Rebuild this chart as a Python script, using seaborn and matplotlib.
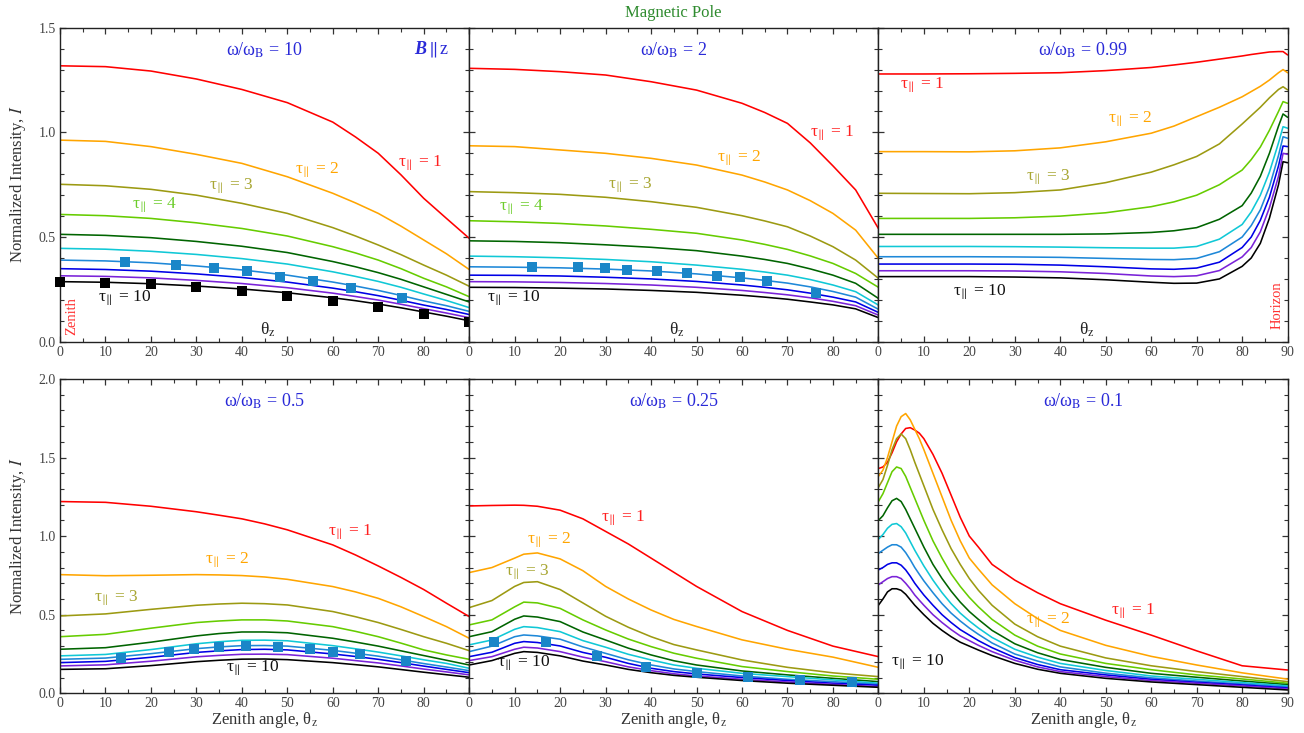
import seaborn as sns
from matplotlib import pyplot as plt
from matplotlib.ticker import MultipleLocator

# ---- data (normalized intensity vs zenith angle) ----
# curves are ordered tau = 1 .. 10

theta_w10 = [0, 10, 20, 30, 40, 50, 60, 65, 70, 75, 80, 85, 90]
I_w10 = [
    [1.318, 1.314, 1.293, 1.255, 1.205, 1.142, 1.049, 0.978, 0.900, 0.797, 0.685, 0.589, 0.494],
    [0.963, 0.957, 0.932, 0.895, 0.852, 0.788, 0.709, 0.663, 0.613, 0.552, 0.486, 0.420, 0.345],
    [0.752, 0.745, 0.728, 0.700, 0.661, 0.613, 0.545, 0.505, 0.462, 0.416, 0.366, 0.318, 0.265],
    [0.608, 0.602, 0.589, 0.568, 0.541, 0.505, 0.454, 0.424, 0.390, 0.349, 0.303, 0.262, 0.215],
    [0.513, 0.508, 0.497, 0.479, 0.456, 0.426, 0.383, 0.358, 0.330, 0.298, 0.262, 0.226, 0.190],
    [0.446, 0.442, 0.432, 0.417, 0.397, 0.371, 0.334, 0.312, 0.288, 0.260, 0.228, 0.197, 0.163],
    [0.390, 0.386, 0.377, 0.362, 0.343, 0.318, 0.285, 0.266, 0.245, 0.221, 0.195, 0.172, 0.145],
    [0.349, 0.345, 0.337, 0.324, 0.307, 0.285, 0.256, 0.239, 0.220, 0.198, 0.175, 0.154, 0.130],
    [0.315, 0.312, 0.305, 0.293, 0.278, 0.258, 0.232, 0.216, 0.199, 0.179, 0.158, 0.137, 0.115],
    [0.287, 0.284, 0.277, 0.266, 0.252, 0.234, 0.210, 0.196, 0.180, 0.162, 0.142, 0.122, 0.100],
]
sq_black_theta_w10 = [0, 10, 20, 30, 40, 50, 60, 70, 80, 90]
sq_black_I_w10 = [0.287, 0.282, 0.276, 0.263, 0.244, 0.220, 0.196, 0.167, 0.132, 0.096]
sq_blue_theta_w10 = [14.4, 25.6, 33.9, 41.2, 48.4, 55.6, 64.0, 75.3]
sq_blue_I_w10 = [0.379, 0.366, 0.351, 0.338, 0.311, 0.292, 0.258, 0.210]

theta_w2 = [0, 10, 20, 30, 40, 50, 60, 65, 70, 75, 80, 85, 90]
I_w2 = [
    [1.306, 1.301, 1.290, 1.274, 1.242, 1.202, 1.139, 1.095, 1.043, 0.950, 0.840, 0.725, 0.541],
    [0.936, 0.932, 0.916, 0.900, 0.876, 0.844, 0.796, 0.763, 0.725, 0.674, 0.613, 0.533, 0.398],
    [0.717, 0.712, 0.704, 0.690, 0.669, 0.642, 0.602, 0.577, 0.549, 0.505, 0.454, 0.390, 0.303],
    [0.578, 0.573, 0.565, 0.553, 0.537, 0.518, 0.486, 0.465, 0.441, 0.410, 0.374, 0.326, 0.260],
    [0.482, 0.479, 0.473, 0.463, 0.451, 0.435, 0.409, 0.393, 0.374, 0.348, 0.318, 0.279, 0.207],
    [0.409, 0.406, 0.401, 0.393, 0.382, 0.366, 0.346, 0.333, 0.318, 0.297, 0.271, 0.239, 0.175],
    [0.358, 0.356, 0.353, 0.347, 0.338, 0.324, 0.305, 0.293, 0.280, 0.262, 0.240, 0.213, 0.155],
    [0.318, 0.317, 0.314, 0.308, 0.300, 0.288, 0.271, 0.260, 0.248, 0.232, 0.213, 0.190, 0.140],
    [0.287, 0.286, 0.283, 0.278, 0.271, 0.260, 0.245, 0.235, 0.224, 0.210, 0.193, 0.172, 0.127],
    [0.260, 0.259, 0.256, 0.252, 0.245, 0.236, 0.222, 0.213, 0.203, 0.190, 0.176, 0.157, 0.115],
]
sq_blue_theta_w2 = [13.8, 24.0, 29.8, 34.8, 41.3, 47.8, 54.6, 59.6, 65.4, 76.2]
sq_blue_I_w2 = [0.355, 0.355, 0.351, 0.341, 0.338, 0.327, 0.314, 0.308, 0.290, 0.231]

theta_w099 = [0, 10, 20, 30, 40, 50, 60, 65, 70, 75, 80, 82, 84, 86, 88, 89, 90]
I_w099 = [
    [1.279, 1.279, 1.280, 1.282, 1.285, 1.295, 1.310, 1.322, 1.335, 1.350, 1.365, 1.372, 1.378, 1.384, 1.386, 1.386, 1.370],
    [0.908, 0.908, 0.907, 0.912, 0.926, 0.955, 0.996, 1.030, 1.075, 1.120, 1.170, 1.195, 1.220, 1.250, 1.285, 1.300, 1.285],
    [0.709, 0.708, 0.707, 0.712, 0.725, 0.760, 0.810, 0.845, 0.885, 0.945, 1.040, 1.080, 1.120, 1.165, 1.205, 1.218, 1.203],
    [0.589, 0.589, 0.589, 0.592, 0.600, 0.616, 0.645, 0.668, 0.700, 0.750, 0.820, 0.870, 0.930, 1.010, 1.100, 1.147, 1.139],
    [0.513, 0.513, 0.513, 0.513, 0.513, 0.515, 0.522, 0.530, 0.545, 0.585, 0.650, 0.710, 0.790, 0.900, 1.030, 1.088, 1.072],
    [0.455, 0.455, 0.455, 0.454, 0.452, 0.449, 0.447, 0.447, 0.455, 0.490, 0.560, 0.620, 0.700, 0.810, 0.950, 1.027, 1.020],
    [0.406, 0.406, 0.406, 0.405, 0.403, 0.398, 0.393, 0.392, 0.398, 0.430, 0.500, 0.555, 0.630, 0.740, 0.890, 0.979, 0.972],
    [0.371, 0.371, 0.371, 0.370, 0.366, 0.358, 0.348, 0.346, 0.352, 0.380, 0.450, 0.500, 0.580, 0.690, 0.840, 0.935, 0.932],
    [0.339, 0.339, 0.339, 0.338, 0.334, 0.326, 0.314, 0.311, 0.315, 0.340, 0.405, 0.450, 0.525, 0.640, 0.790, 0.900, 0.895],
    [0.311, 0.311, 0.311, 0.309, 0.305, 0.296, 0.284, 0.279, 0.280, 0.300, 0.360, 0.400, 0.470, 0.590, 0.750, 0.860, 0.855],
]

theta_w05 = [0, 10, 20, 30, 35, 40, 45, 50, 60, 65, 70, 75, 80, 85, 90]
I_w05 = [
    [1.220, 1.215, 1.190, 1.155, 1.133, 1.110, 1.078, 1.040, 0.944, 0.880, 0.810, 0.737, 0.660, 0.573, 0.488],
    [0.755, 0.748, 0.751, 0.755, 0.753, 0.749, 0.740, 0.725, 0.679, 0.645, 0.604, 0.550, 0.488, 0.424, 0.350],
    [0.492, 0.505, 0.534, 0.560, 0.568, 0.573, 0.570, 0.562, 0.520, 0.487, 0.450, 0.406, 0.360, 0.318, 0.271],
    [0.360, 0.375, 0.414, 0.450, 0.460, 0.467, 0.467, 0.460, 0.424, 0.394, 0.360, 0.319, 0.276, 0.244, 0.216],
    [0.280, 0.290, 0.325, 0.365, 0.380, 0.390, 0.390, 0.385, 0.350, 0.326, 0.300, 0.270, 0.240, 0.210, 0.180],
    [0.238, 0.247, 0.278, 0.315, 0.328, 0.337, 0.338, 0.334, 0.303, 0.283, 0.262, 0.238, 0.213, 0.190, 0.159],
    [0.216, 0.224, 0.252, 0.284, 0.295, 0.303, 0.304, 0.300, 0.273, 0.255, 0.236, 0.213, 0.189, 0.167, 0.144],
    [0.195, 0.203, 0.229, 0.260, 0.270, 0.278, 0.280, 0.276, 0.250, 0.234, 0.216, 0.195, 0.173, 0.152, 0.131],
    [0.174, 0.181, 0.204, 0.232, 0.241, 0.248, 0.249, 0.246, 0.223, 0.208, 0.193, 0.174, 0.154, 0.136, 0.117],
    [0.152, 0.156, 0.176, 0.201, 0.210, 0.217, 0.218, 0.214, 0.195, 0.182, 0.168, 0.151, 0.134, 0.118, 0.102],
]
sq_blue_theta_w05 = [13.5, 24, 29.5, 35, 41, 48, 55, 60, 66, 76]
sq_blue_I_w05 = [0.225, 0.263, 0.280, 0.293, 0.301, 0.295, 0.283, 0.265, 0.252, 0.203]

theta_w025 = [0, 5, 10, 12, 15, 20, 25, 30, 35, 40, 45, 50, 60, 70, 80, 90]
I_w025 = [
    [1.192, 1.195, 1.197, 1.196, 1.190, 1.165, 1.110, 1.030, 0.950, 0.860, 0.770, 0.680, 0.520, 0.400, 0.300, 0.233],
    [0.768, 0.800, 0.860, 0.885, 0.893, 0.855, 0.780, 0.680, 0.600, 0.530, 0.470, 0.425, 0.340, 0.280, 0.230, 0.165],
    [0.545, 0.590, 0.680, 0.705, 0.710, 0.660, 0.575, 0.490, 0.420, 0.360, 0.310, 0.276, 0.212, 0.165, 0.130, 0.106],
    [0.435, 0.467, 0.550, 0.580, 0.575, 0.540, 0.467, 0.403, 0.345, 0.297, 0.255, 0.223, 0.170, 0.138, 0.110, 0.089],
    [0.360, 0.392, 0.471, 0.492, 0.485, 0.456, 0.390, 0.339, 0.287, 0.244, 0.207, 0.180, 0.142, 0.117, 0.095, 0.074],
    [0.308, 0.339, 0.407, 0.424, 0.418, 0.392, 0.335, 0.293, 0.248, 0.212, 0.180, 0.159, 0.127, 0.106, 0.085, 0.064],
    [0.265, 0.300, 0.360, 0.371, 0.365, 0.344, 0.295, 0.254, 0.213, 0.180, 0.155, 0.138, 0.110, 0.089, 0.074, 0.057],
    [0.233, 0.261, 0.318, 0.329, 0.323, 0.301, 0.260, 0.229, 0.190, 0.159, 0.138, 0.123, 0.100, 0.081, 0.064, 0.051],
    [0.208, 0.233, 0.280, 0.293, 0.288, 0.265, 0.230, 0.201, 0.168, 0.144, 0.124, 0.110, 0.089, 0.072, 0.057, 0.042],
    [0.180, 0.208, 0.254, 0.265, 0.260, 0.238, 0.205, 0.180, 0.152, 0.131, 0.114, 0.102, 0.081, 0.064, 0.051, 0.038],
]
sq_blue_theta_w025 = [5.5, 16.9, 28.0, 38.9, 50.2, 61.4, 72.8, 84.1]
sq_blue_I_w025 = [0.329, 0.329, 0.237, 0.169, 0.127, 0.106, 0.085, 0.070]

theta_w01 = [0, 1, 2, 3, 4, 5, 6, 7, 8, 9, 10, 12, 14, 16, 18, 20, 22, 25, 30, 35, 40, 50, 60, 70, 80, 90]
I_w01 = [
    [1.43, 1.44, 1.47, 1.53, 1.60, 1.65, 1.685, 1.69, 1.675, 1.655, 1.62, 1.52, 1.40, 1.26, 1.12, 1.00, 0.93, 0.82, 0.72, 0.64, 0.57, 0.465, 0.37, 0.27, 0.175, 0.148],
    [1.38, 1.42, 1.50, 1.60, 1.70, 1.76, 1.78, 1.74, 1.68, 1.62, 1.55, 1.40, 1.25, 1.10, 0.97, 0.86, 0.79, 0.69, 0.57, 0.475, 0.40, 0.305, 0.235, 0.18, 0.13, 0.09],
    [1.31, 1.36, 1.45, 1.55, 1.62, 1.65, 1.62, 1.55, 1.47, 1.395, 1.32, 1.17, 1.04, 0.92, 0.82, 0.73, 0.655, 0.56, 0.44, 0.36, 0.30, 0.225, 0.175, 0.138, 0.106, 0.074],
    [1.22, 1.27, 1.34, 1.41, 1.44, 1.43, 1.38, 1.31, 1.24, 1.17, 1.10, 0.97, 0.86, 0.76, 0.68, 0.61, 0.55, 0.47, 0.37, 0.30, 0.25, 0.19, 0.15, 0.117, 0.091, 0.064],
    [1.10, 1.13, 1.18, 1.225, 1.24, 1.22, 1.17, 1.11, 1.05, 0.99, 0.93, 0.82, 0.73, 0.65, 0.58, 0.52, 0.47, 0.40, 0.315, 0.258, 0.215, 0.165, 0.127, 0.102, 0.078, 0.055],
    [0.98, 1.01, 1.05, 1.075, 1.08, 1.06, 1.02, 0.965, 0.91, 0.86, 0.81, 0.72, 0.64, 0.57, 0.51, 0.46, 0.415, 0.355, 0.28, 0.23, 0.19, 0.145, 0.11, 0.089, 0.068, 0.047],
    [0.89, 0.91, 0.93, 0.945, 0.945, 0.93, 0.895, 0.85, 0.80, 0.757, 0.715, 0.64, 0.57, 0.51, 0.46, 0.415, 0.375, 0.32, 0.25, 0.205, 0.168, 0.128, 0.098, 0.078, 0.059, 0.04],
    [0.785, 0.80, 0.82, 0.83, 0.83, 0.815, 0.785, 0.745, 0.70, 0.662, 0.625, 0.56, 0.50, 0.45, 0.405, 0.37, 0.335, 0.29, 0.227, 0.183, 0.15, 0.117, 0.089, 0.07, 0.053, 0.034],
    [0.69, 0.71, 0.73, 0.742, 0.742, 0.73, 0.70, 0.665, 0.625, 0.592, 0.56, 0.50, 0.45, 0.405, 0.365, 0.335, 0.305, 0.265, 0.21, 0.168, 0.138, 0.106, 0.081, 0.064, 0.047, 0.028],
    [0.56, 0.60, 0.645, 0.665, 0.665, 0.655, 0.63, 0.595, 0.56, 0.53, 0.50, 0.445, 0.40, 0.36, 0.325, 0.30, 0.275, 0.24, 0.19, 0.153, 0.127, 0.095, 0.072, 0.055, 0.038, 0.021],
]

omega_labels = ['10', '2', '0.99', '0.5', '0.25', '0.1']

COLORS = ['#ff0000', '#ffa500', '#9c9a12', '#66cc00', '#006400',
          '#10c8d6', '#1e88d8', '#0000e6', '#7a22d8', '#000000']
TAU_TXT_COLORS = {1: '#ff2020', 2: '#ffa500', 3: '#a8a632', 4: '#6ccc2a', 10: '#111111'}
SQ_BLUE = '#1a86c8'
OMEGA_COLOR = '#2a2ad8'

sns.set_theme(style='ticks')
plt.rcParams['font.family'] = ['Liberation Serif', 'DejaVu Serif']
plt.rcParams['mathtext.fontset'] = 'stix'

fig = plt.figure(figsize=(13.04, 7.33), dpi=100)

LEFT = 60 / 1304
W = 409.2 / 1304
ROW_POS = [(0.5338, 0.4284), (0.0542, 0.4288)]


def tau_text(ax, n, x, y):
    ax.text(x, y, r'τ$_{\!\parallel}$ = %d' % n, color=TAU_TXT_COLORS[n],
            fontsize=12.5, ha='center', va='center')


def theta_text(ax, x):
    ax.text(x, ax.get_ylim()[1] * 0.037, r'θ$_{\mathrm{z}}$', fontsize=12.5,
            color='#222222', ha='center', va='center')


def draw_panel(row, col, theta, curves, ymax, omega):
    ax = fig.add_axes([LEFT + col * W, ROW_POS[row][0], W, ROW_POS[row][1]])
    for vals, c in zip(curves, COLORS):
        sns.lineplot(x=theta, y=vals, color=c, lw=1.15, ax=ax, legend=False,
                     estimator=None)
    ax.set_xlim(0, 90)
    ax.set_ylim(0, ymax)
    ax.set_xticks(range(0, 91, 10))
    if col < 2:
        ax.set_xticklabels([str(v) for v in range(0, 81, 10)] + [''])
    ax.set_yticks([v * 0.5 for v in range(int(ymax / 0.5) + 1)])
    ax.set_yticklabels(['%.1f' % (v * 0.5) for v in range(int(ymax / 0.5) + 1)])
    ax.xaxis.set_minor_locator(MultipleLocator(5))
    ax.yaxis.set_minor_locator(MultipleLocator(0.1))
    ax.tick_params(which='both', direction='in', top=True, right=True,
                   colors='#333333', labelcolor='#444444', labelsize=10)
    ax.tick_params(which='major', length=4.5, width=0.9, pad=3)
    ax.tick_params(which='minor', length=3, width=0.8)
    if col > 0:
        ax.tick_params(labelleft=False)
    for s in ax.spines.values():
        s.set_color('#222222')
        s.set_linewidth(1.0)
    ax.set_xlabel('')
    ax.set_ylabel('')
    ax.text(45, ymax * 0.929, r'ω/ω$_{\mathrm{B}}$ = ' + omega,
            color=OMEGA_COLOR, fontsize=13, ha='center', va='center')
    return ax


ax1 = draw_panel(0, 0, theta_w10, I_w10, 1.5, omega_labels[0])
sns.scatterplot(x=sq_black_theta_w10, y=sq_black_I_w10, marker='s', s=60,
                color='black', linewidth=0, ax=ax1, zorder=5, clip_on=False, legend=False)
sns.scatterplot(x=sq_blue_theta_w10, y=sq_blue_I_w10, marker='s', s=60,
                color=SQ_BLUE, linewidth=0, ax=ax1, zorder=5, legend=False)
ax1.text(80.6, 1.394, 'B', color=OMEGA_COLOR, fontsize=13, fontweight='bold',
         fontstyle='italic', ha='right', va='center')
ax1.text(80.9, 1.394, r'$\|\,$z', color=OMEGA_COLOR, fontsize=13, ha='left', va='center')
tau_text(ax1, 1, 79.2, 0.853)
tau_text(ax1, 2, 56.7, 0.82)
tau_text(ax1, 3, 37.8, 0.744)
tau_text(ax1, 4, 20.9, 0.653)
tau_text(ax1, 10, 14.3, 0.209)
theta_text(ax1, 45.7)
ax1.text(2.6, 0.122, 'Zenith', color='#ff3030', fontsize=10.5, rotation=90,
         ha='center', va='center')

ax2 = draw_panel(0, 1, theta_w2, I_w2, 1.5, omega_labels[1])
sns.scatterplot(x=sq_blue_theta_w2, y=sq_blue_I_w2, marker='s', s=60,
                color=SQ_BLUE, linewidth=0, ax=ax2, zorder=5, legend=False)
tau_text(ax2, 1, 79.8, 0.997)
tau_text(ax2, 2, 59.5, 0.877)
tau_text(ax2, 3, 35.4, 0.749)
tau_text(ax2, 4, 11.6, 0.643)
tau_text(ax2, 10, 9.9, 0.209)
theta_text(ax2, 45.7)

ax3 = draw_panel(0, 2, theta_w099, I_w099, 1.5, omega_labels[2])
tau_text(ax3, 1, 9.6, 1.226)
tau_text(ax3, 2, 55.4, 1.06)
tau_text(ax3, 3, 37.3, 0.787)
tau_text(ax3, 10, 22.4, 0.237)
theta_text(ax3, 45.9)
ax3.text(87.7, 0.175, 'Horizon', color='#ff3030', fontsize=10.5, rotation=90,
         ha='center', va='center')

ax4 = draw_panel(1, 0, theta_w05, I_w05, 2.0, omega_labels[3])
sns.scatterplot(x=sq_blue_theta_w05, y=sq_blue_I_w05, marker='s', s=60,
                color=SQ_BLUE, linewidth=0, ax=ax4, zorder=5, legend=False)
tau_text(ax4, 1, 63.8, 1.026)
tau_text(ax4, 2, 36.9, 0.848)
tau_text(ax4, 3, 12.5, 0.606)
tau_text(ax4, 10, 42.4, 0.161)

ax5 = draw_panel(1, 1, theta_w025, I_w025, 2.0, omega_labels[4])
sns.scatterplot(x=sq_blue_theta_w025, y=sq_blue_I_w025, marker='s', s=60,
                color=SQ_BLUE, linewidth=0, ax=ax5, zorder=5, legend=False)
tau_text(ax5, 1, 34.0, 1.115)
tau_text(ax5, 2, 17.6, 0.976)
tau_text(ax5, 3, 12.9, 0.772)
tau_text(ax5, 10, 12.1, 0.193)

ax6 = draw_panel(1, 2, theta_w01, I_w01, 2.0, omega_labels[5])
tau_text(ax6, 1, 56.0, 0.52)
tau_text(ax6, 2, 37.3, 0.466)
tau_text(ax6, 10, 8.7, 0.199)

# shared texts
fig.text(0.516, 0.982, 'Magnetic Pole', color='#2e8b2e', fontsize=12, ha='center', va='center')
for yc in (0.748, 0.2687):
    fig.text(18 / 1304, yc, 'Normalized Intensity, $I$', rotation=90, fontsize=12,
             color='#333333', ha='center', va='center')
for col in range(3):
    fig.text(LEFT + (col + 0.5) * W, 0.0177, r'Zenith angle, θ$_{\mathrm{z}}$', fontsize=12,
             color='#333333', ha='center', va='center')

fig.savefig('out.png', dpi=100)
